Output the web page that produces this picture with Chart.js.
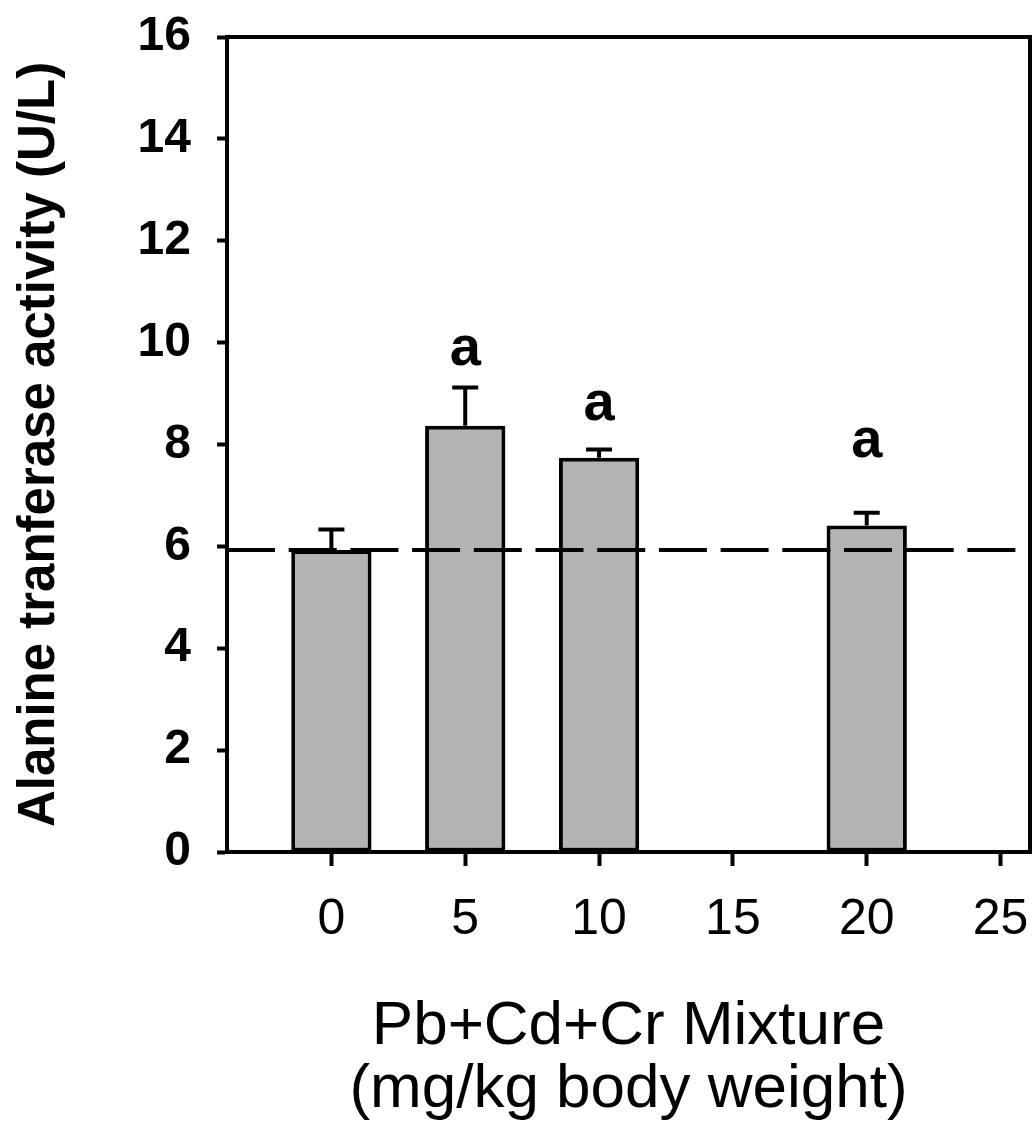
<!DOCTYPE html>
<html><head><meta charset="utf-8">
<script src="https://cdn.jsdelivr.net/npm/chart.js@4"></script>
<style>html,body{margin:0;padding:0;background:#fff}#wrap{width:1034px;height:1135px}</style>
</head><body><div id="wrap"><canvas id="c" width="1034" height="1135"></canvas></div>
<script>
const doses = [0, 5, 10, 20];
const meanALT = [5.93, 8.37, 7.74, 6.41];
const errALT = [0.40, 0.75, 0.16, 0.25];
const sigLetters = ['', 'a', 'a', 'a'];
const sigLetterY = [null, 9.57, 8.49, 7.76];
const controlLevel = 5.93;
const xTicks = [0, 5, 10, 15, 20, 25];
const yTicks = [0, 2, 4, 6, 8, 10, 12, 14, 16];
const xRange = [-3.9, 26.1];
const yRange = [0, 16];

const FONT = '"Liberation Sans", Arial, Helvetica, sans-serif';

const errorBarPlugin = {
  id: 'errorBars',
  afterDatasetsDraw(chart) {
    const {ctx, scales: {x, y}} = chart;
    ctx.save();
    ctx.strokeStyle = '#000';
    ctx.lineWidth = 4;
    ctx.lineCap = 'butt';
    doses.forEach((d, i) => {
      const px = x.getPixelForValue(d);
      const y0 = y.getPixelForValue(meanALT[i]);
      const y1 = y.getPixelForValue(meanALT[i] + errALT[i]);
      ctx.beginPath();
      ctx.moveTo(px, y0);
      ctx.lineTo(px, y1);
      ctx.moveTo(px - 13, y1);
      ctx.lineTo(px + 13, y1);
      ctx.stroke();
    });
    ctx.restore();
  }
};

const framePlugin = {
  id: 'frame',
  afterDraw(chart) {
    const {ctx, chartArea: a} = chart;
    ctx.save();
    ctx.strokeStyle = '#000';
    ctx.lineWidth = 4;
    ctx.strokeRect(a.left, a.top, a.right - a.left, a.bottom - a.top);
    ctx.restore();
  }
};

const letterPlugin = {
  id: 'sigLetters',
  afterDraw(chart) {
    const {ctx, scales: {x, y}} = chart;
    ctx.save();
    ctx.fillStyle = '#000';
    ctx.font = 'bold 56px ' + FONT;
    ctx.textAlign = 'center';
    ctx.textBaseline = 'alphabetic';
    doses.forEach((d, i) => {
      if (!sigLetters[i]) return;
      ctx.fillText(sigLetters[i], x.getPixelForValue(d), y.getPixelForValue(sigLetterY[i]));
    });
    ctx.restore();
  }
};

new Chart(document.getElementById('c'), {
  data: {
    datasets: [
      {
        type: 'line',
        label: 'Control level',
        data: [{x: xRange[0], y: controlLevel}, {x: xRange[1], y: controlLevel}],
        borderColor: '#000',
        borderWidth: 4,
        borderDash: [48, 13.7],
        pointRadius: 0,
        fill: false,
        order: 0
      },
      {
        type: 'bar',
        label: 'ALT',
        data: doses.map((d, i) => ({x: d, y: meanALT[i]})),
        backgroundColor: '#b3b3b3',
        borderColor: '#000',
        borderWidth: 4,
        borderSkipped: false,
        barPercentage: 0.6,
        categoryPercentage: 1.0,
        order: 1
      }
    ]
  },
  options: {
    responsive: false,
    animation: false,
    devicePixelRatio: 1,
    layout: {padding: {left: 0, right: 4, top: 37, bottom: 0}},
    plugins: {legend: {display: false}, tooltip: {enabled: false}},
    scales: {
      x: {
        type: 'linear',
        offset: false,
        min: xRange[0],
        max: xRange[1],
        afterBuildTicks(s) { s.ticks = xTicks.map(v => ({value: v})); },
        afterFit(s) { s.height = 283; s.paddingLeft = 0; s.paddingRight = 0; },
        border: {display: true, color: '#000', width: 4},
        grid: {display: true, offset: false, drawOnChartArea: false, drawTicks: true, tickLength: 14, tickWidth: 4, tickColor: '#000'},
        ticks: {autoSkip: false, maxRotation: 0, color: '#000', padding: 24, font: {family: FONT, size: 50}},
        title: {
          display: true,
          text: ['Pb+Cd+Cr Mixture', '(mg/kg body weight)'],
          color: '#000',
          font: {family: FONT, size: 62, lineHeight: 1.02},
          padding: {top: 0, bottom: 13}
        }
      },
      y: {
        type: 'linear',
        min: yRange[0],
        max: yRange[1],
        afterBuildTicks(s) { s.ticks = yTicks.map(v => ({value: v})); },
        afterFit(s) { s.width = 227; s.paddingTop = 0; s.paddingBottom = 0; },
        border: {display: true, color: '#000', width: 4},
        grid: {display: true, drawOnChartArea: false, drawTicks: true, tickLength: 10, tickWidth: 4, tickColor: '#000'},
        ticks: {color: '#000', padding: 26, font: {family: FONT, size: 48, weight: 'bold'}},
        title: {
          display: true,
          text: 'Alanine tranferase activity (U/L)',
          color: '#000',
          font: {family: FONT, size: 51, weight: 'bold', lineHeight: 1.2},
          padding: {top: 9, bottom: 0}
        }
      }
    }
  },
  plugins: [errorBarPlugin, framePlugin, letterPlugin]
});
</script>
</body></html>
